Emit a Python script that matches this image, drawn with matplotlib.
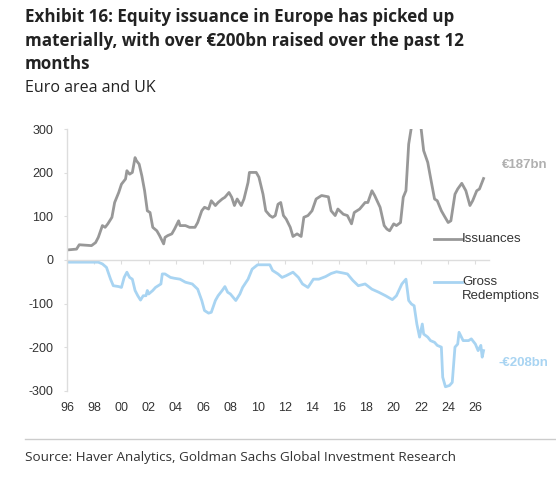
import matplotlib
matplotlib.use("Agg")
import matplotlib.pyplot as plt
from matplotlib.lines import Line2D

# ---- data ----
iss_years = [1996.0, 1996.7, 1996.9, 1997.8, 1998.1, 1998.3, 1998.6, 1998.8, 1999.0, 1999.3,
             1999.5, 1999.8, 2000.0, 2000.3, 2000.4, 2000.6, 2000.8, 2001.0, 2001.1, 2001.3,
             2001.5, 2001.7, 2001.9, 2002.1, 2002.3, 2002.6, 2002.8, 2003.1, 2003.2, 2003.4,
             2003.7, 2003.9, 2004.2, 2004.3, 2004.7, 2005.0, 2005.4, 2005.6, 2005.9, 2006.1,
             2006.4, 2006.6, 2006.9, 2007.1, 2007.4, 2007.6, 2007.9, 2008.1, 2008.3, 2008.5,
             2008.8, 2009.0, 2009.3, 2009.4, 2009.6, 2009.9, 2010.1, 2010.4, 2010.6, 2010.9,
             2011.1, 2011.3, 2011.5, 2011.7, 2011.9, 2012.1, 2012.4, 2012.6, 2012.9, 2013.2,
             2013.4, 2013.7, 2014.0, 2014.3, 2014.7, 2015.2, 2015.4, 2015.7, 2015.9, 2016.3,
             2016.6, 2016.9, 2017.1, 2017.5, 2017.9, 2018.1, 2018.4, 2018.6, 2019.0, 2019.3,
             2019.5, 2019.7, 2020.0, 2020.2, 2020.5, 2020.7, 2020.9, 2021.1, 2021.3, 2021.5,
             2021.8, 2022.0, 2022.2, 2022.5, 2022.7, 2023.0, 2023.2, 2023.5, 2023.7, 2024.0,
             2024.2, 2024.5, 2024.7, 2025.0, 2025.3, 2025.6, 2025.8, 2026.1, 2026.3, 2026.6]
iss_values = [23, 25, 35, 33, 40, 52, 79, 75, 83, 98,
              132, 155, 174, 186, 205, 197, 201, 235, 228, 220,
              193, 159, 113, 109, 75, 67, 56, 37, 52, 56,
              60, 71, 90, 79, 79, 75, 75, 86, 113, 121,
              117, 136, 125, 132, 140, 144, 155, 144, 125, 140,
              125, 140, 178, 201, 201, 201, 190, 151, 113, 102,
              98, 102, 128, 132, 102, 94, 75, 54, 60, 54,
              98, 102, 113, 140, 148, 145, 113, 102, 117, 105,
              102, 83, 109, 117, 132, 132, 159, 148, 121, 79,
              71, 67, 83, 79, 86, 144, 159, 266, 305, 360,
              370, 305, 251, 224, 190, 140, 136, 113, 102, 86,
              90, 151, 163, 176, 159, 125, 136, 159, 163, 187]

red_years = [1996.0, 1998.3, 1998.6, 1998.9, 1999.2, 1999.4, 1999.8, 2000.0, 2000.2, 2000.4,
             2000.6, 2000.8, 2001.0, 2001.2, 2001.4, 2001.6, 2001.8, 2001.9, 2002.0, 2002.3,
             2002.5, 2002.9, 2003.0, 2003.2, 2003.6, 2003.9, 2004.3, 2004.7, 2005.2, 2005.6,
             2005.9, 2006.1, 2006.4, 2006.6, 2006.9, 2007.1, 2007.4, 2007.6, 2007.8, 2008.0,
             2008.4, 2008.7, 2008.9, 2009.3, 2009.6, 2010.0, 2010.4, 2010.9, 2011.1, 2011.5,
             2011.8, 2012.1, 2012.6, 2013.0, 2013.3, 2013.7, 2014.1, 2014.5, 2015.0, 2015.4,
             2015.8, 2016.3, 2016.6, 2017.0, 2017.4, 2017.9, 2018.4, 2018.9, 2019.4, 2019.9,
             2020.2, 2020.6, 2020.9, 2021.1, 2021.3, 2021.5, 2021.7, 2021.9, 2022.1, 2022.2,
             2022.5, 2022.7, 2023.0, 2023.2, 2023.5, 2023.6, 2023.8, 2024.1, 2024.3, 2024.5,
             2024.7, 2024.8, 2025.1, 2025.5, 2025.7, 2026.0, 2026.2, 2026.4, 2026.5, 2026.6]
red_values = [-5, -5, -9, -17, -44, -59, -61, -63, -40, -28,
              -40, -44, -70, -82, -92, -82, -82, -70, -78, -70,
              -63, -55, -32, -32, -40, -42, -44, -51, -55, -67,
              -93, -116, -122, -120, -93, -82, -70, -61, -74, -78,
              -93, -78, -63, -44, -21, -11, -11, -11, -24, -32,
              -40, -36, -28, -40, -55, -63, -44, -44, -38, -31,
              -27, -30, -32, -47, -59, -55, -67, -74, -82, -91,
              -82, -55, -44, -93, -101, -105, -147, -177, -147, -170,
              -177, -185, -189, -196, -200, -269, -291, -288, -281, -200,
              -193, -166, -185, -185, -181, -193, -208, -196, -223, -208]

x_ticks = list(range(1996, 2027, 2))
x_tick_labels = [f"{t % 100:02d}" for t in x_ticks]
y_ticks = [-300, -200, -100, 0, 100, 200, 300]
series_names = ["Issuances", "Gross\nRedemptions"]
end_labels = ["€187bn", "-€208bn"]

GRAY = "#989898"
BLUE = "#a8d4f2"
TXT = "#333333"
AXC = "#dddddd"

plt.rcParams['font.family'] = ['Liberation Sans', 'DejaVu Sans']

W, H = 556, 484
fig = plt.figure(figsize=(W / 100, H / 100), dpi=100)
ax = fig.add_axes([67 / W, 1 - 390.7 / H, (489 - 67) / W, (390.7 - 129.3) / H])

ax.plot(iss_years, iss_values, color=GRAY, lw=2.0, solid_joinstyle='round')
ax.plot(red_years, red_values, color=BLUE, lw=2.0, solid_joinstyle='round')

ax.set_xlim(1996, 2027)
ax.set_ylim(-300, 300)
ax.set_yticks(y_ticks)
ax.set_yticklabels([str(v) for v in y_ticks])

for s in ['top', 'right']:
    ax.spines[s].set_visible(False)
ax.spines['left'].set_color(AXC)
ax.spines['left'].set_linewidth(1.0)
ax.spines['bottom'].set_position(('data', 0))
ax.spines['bottom'].set_color(AXC)
ax.spines['bottom'].set_linewidth(1.0)
ax.set_xticks(x_ticks)
ax.tick_params(axis='x', which='both', direction='out', length=3, color=AXC,
               labelbottom=False)
ax.tick_params(axis='y', direction='out', length=2, color=AXC, labelsize=9,
               labelcolor=TXT, pad=8)

sec = ax.secondary_xaxis('bottom')
sec.set_xticks(x_ticks)
sec.set_xticklabels(x_tick_labels)
sec.spines['bottom'].set_visible(False)
sec.tick_params(axis='x', length=0, labelsize=9, labelcolor=TXT, pad=8)

# legend-like labels
tr = fig.transFigure
def fx(px):
    return px / W
def fy(py):
    return 1 - py / H

fig.add_artist(Line2D([fx(434), fx(462)], [fy(239.5), fy(239.5)], color=GRAY, lw=2.0, transform=tr))
fig.text(fx(462), fy(239.5), series_names[0], color=TXT, fontsize=9.5, va='center', ha='left')
fig.add_artist(Line2D([fx(434), fx(462)], [fy(281.7), fy(281.7)], color=BLUE, lw=2.0, transform=tr))
fig.text(fx(462), fy(289), series_names[1], color=TXT, fontsize=9.5, va='center', ha='left',
         linespacing=1.15)

fig.text(fx(548), fy(165), end_labels[0], color="#b0b0b0", fontsize=9.5, fontweight='bold',
         va='center', ha='right')
fig.text(fx(548), fy(363), end_labels[1], color=BLUE, fontsize=9.5, fontweight='bold',
         va='center', ha='right')

# titles
TF = ['Open Sans', 'DejaVu Sans']
fig.text(fx(25), fy(22.3), "Exhibit 16: Equity issuance in Europe has picked up",
         fontsize=12.25, fontweight='bold', family=TF, color="#222222", va='baseline')
fig.text(fx(25), fy(46.2), "materially, with over €200bn raised over the past 12",
         fontsize=12.25, fontweight='bold', family=TF, color="#222222", va='baseline')
fig.text(fx(25), fy(69.3), "months",
         fontsize=12.25, fontweight='bold', family=TF, color="#222222", va='baseline')
fig.text(fx(25), fy(91.7), "Euro area and UK",
         fontsize=11.5, family=TF, color="#222222", va='baseline')

fig.add_artist(Line2D([fx(25), fx(556)], [fy(439.3), fy(439.3)], color="#cccccc", lw=1.0, transform=tr))
fig.text(fx(25), fy(461), "Source: Haver Analytics, Goldman Sachs Global Investment Research",
         fontsize=9.7, family=TF, color="#333333", va='baseline')

fig.savefig("out.png", dpi=100)
